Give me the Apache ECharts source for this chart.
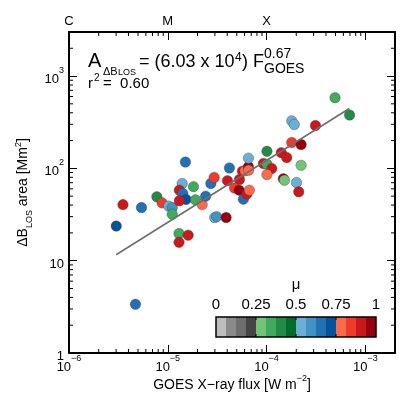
<!DOCTYPE html>
<html>
<head>
<meta charset="utf-8">
<script src="https://cdn.jsdelivr.net/npm/echarts@6/dist/echarts.min.js"></script>
</head>
<body style="margin:0">
<div id="container" style="width:407px;height:407px"></div>
<script>
// GOES peak flux [W m^-2], Delta B_LOS area [Mm^2], mu of each flare
var fluxes = [1.51e-5, 3.52e-6, 5.42e-6, 3.01e-6, 7.76e-6, 8.77e-6, 1.02e-5, 1.11e-5, 1.11e-5, 1.40e-5,
              1.31e-5, 1.42e-5, 1.53e-5, 1.31e-5, 1.82e-5, 1.91e-5, 2.23e-5, 2.42e-5, 2.73e-5, 2.95e-5,
              2.99e-5, 3.13e-5, 3.90e-5, 4.02e-5, 4.21e-5, 5.32e-5, 4.75e-5, 5.28e-5, 5.83e-5, 6.32e-5,
              6.71e-5, 5.70e-5, 6.07e-5, 6.56e-5, 6.59e-5, 6.56e-5, 9.31e-5, 1.01e-4, 1.13e-4, 1.01e-4,
              1.01e-4, 1.41e-4, 1.60e-4, 2.24e-4, 1.48e-4, 1.52e-4, 2.01e-4, 2.12e-4, 1.80e-4, 2.24e-4,
              1.80e-4, 1.91e-4, 3.13e-4, 4.94e-4, 6.93e-4, 1.30e-5, 1.61e-5, 1.30e-5, 4.71e-6];
var areas = [117, 40.5, 37.6, 23.7, 49.2, 42.3, 39.0, 37.6, 31.9, 68.7,
             58.1, 53.5, 46.1, 44.5, 63.4, 45.6, 40.5, 50.0, 68.7, 79.7,
             29.3, 30.0, 29.4, 73.6, 101, 75.8, 61.1, 58.1, 46.4, 52.6,
             58.1, 93.3, 94.4, 104, 95.6, 129, 113, 111, 99.8, 85.9,
             153, 148, 131, 108, 77.4, 74.5, 70.4, 55.7, 191, 181,
             327, 299, 291, 582, 379, 19.7, 18.9, 15.8, 3.37];
var mus = [0.66, 0.9, 0.66, 0.72, 0.41, 0.84, 0.53, 0.6, 0.34, 0.53,
           0.9, 0.66, 0.72, 0.9, 0.34, 0.34, 0.78, 0.66, 0.66, 0.84,
           0.53, 0.6, 0.97, 0.9, 0.66, 0.9, 0.84, 0.97, 0.66, 0.9,
           0.78, 0.9, 0.78, 0.97, 0.78, 0.53, 0.9, 0.34, 0.9, 0.78,
           0.41, 0.9, 0.9, 0.28, 0.97, 0.28, 0.53, 0.9, 0.84, 0.97,
           0.53, 0.53, 0.9, 0.34, 0.41, 0.34, 0.9, 0.9, 0.66];

// fit line A = 6.03e4 F^0.67, ends
var fitX = [3.0e-6, 6.9e-4];
var fitY = [11.6, 445];

var muColors = ['#bdbdbd', '#8a8a8a', '#6e6e6e', '#454545',
                '#74c476', '#41ab5d', '#238b45', '#006d2c',
                '#6baed6', '#4292c6', '#2171b5', '#08519c',
                '#fb6a4a', '#ef3b2c', '#cb181d', '#99000d'];
var muTicks = ['0', '0.25', '0.5', '0.75', '1'];
var classLabels = ['C', 'M', 'X'];
var minorMult = [2, 3, 4, 5, 6, 7, 8, 9];
var xDecades = [1e-6, 1e-5, 1e-4, 1e-3];
var yDecades = [1, 10, 100, 1000];

var xMin = 1e-6, xMax = 2e-3, yMin = 1, yMax = 3000;
var font = '"Liberation Sans", Arial, sans-serif';

var xMinor = [], yMinor = [];
xDecades.forEach(function (d) { minorMult.forEach(function (m) { if (d * m <= xMax) xMinor.push([d * m, yMin]); }); });
yDecades.forEach(function (d) { minorMult.forEach(function (m) { if (d * m <= yMax) yMinor.push([xMin, d * m]); }); });

var pts = fluxes.map(function (f, i) { return [f, areas[i], mus[i]]; });

function powLabel(v) {
  var l = Math.log10(v), e = Math.round(l);
  if (Math.abs(l - e) > 1e-6) return '';
  if (e === 0) return '{b|1}';
  if (e === 1) return '{b|10}';
  return '{b|10}{s|' + String(e).replace('-', '\u2212') + '}';
}

var tickRich = {
  b: { fontSize: 13, fontFamily: font, color: '#000', lineHeight: 20, verticalAlign: 'bottom' },
  s: { fontSize: 9, fontFamily: font, color: '#000', lineHeight: 9, verticalAlign: 'top' }
};
var axLine = { show: true, lineStyle: { color: '#000', width: 2 } };
var axTick = { show: true, inside: true, length: 8, lineStyle: { color: '#000', width: 1 } };

var dom = document.getElementById('container');
var myChart = echarts.init(dom);

function txt(s, x, y, size, extra) {
  var st = { text: s, font: size + 'px ' + font, fill: '#000', verticalAlign: 'middle' };
  if (extra) for (var k in extra) st[k] = extra[k];
  return { type: 'text', x: x, y: y, style: st };
}

var graphics = [
  txt('A', 88, 61, 20),
  txt('\u0394B', 103, 72, 11),
  txt('LOS', 118, 72.5, 9),
  txt('= (6.03 x 10', 139, 62, 18),
  txt('4', 235, 58, 12),
  txt(') F', 242, 62, 18),
  txt('0.67', 264, 54, 14),
  txt('GOES', 264, 69, 14),
  txt('r', 88, 84, 15),
  txt('2', 94, 78, 10),
  txt('=  0.60', 103, 84, 15),
  txt('\u03bc', 296, 285, 15, { align: 'center' })
];
// colour bar for mu
var cbX = 216, cbY = 317, cbW = 10, cbH = 20;
muColors.forEach(function (c, i) {
  graphics.push({ type: 'rect', shape: { x: cbX + i * cbW, y: cbY, width: cbW, height: cbH }, style: { fill: c } });
});
graphics.push({ type: 'rect', shape: { x: cbX, y: cbY, width: cbW * muColors.length, height: cbH }, style: { fill: 'none', stroke: '#000', lineWidth: 1.5 } });
muTicks.forEach(function (t, i) {
  var x = cbX + i * cbW * muColors.length / (muTicks.length - 1);
  graphics.push(txt(t, x, 305, 15, { align: 'center' }));
  if (i > 0 && i < muTicks.length - 1) {
    graphics.push({ type: 'line', shape: { x1: x, y1: cbY, x2: x, y2: cbY + 3 }, style: { stroke: '#000', lineWidth: 1 } });
    graphics.push({ type: 'line', shape: { x1: x, y1: cbY + cbH, x2: x, y2: cbY + cbH - 3 }, style: { stroke: '#000', lineWidth: 1 } });
  }
});

option = {
  animation: false,
  backgroundColor: '#fff',
  textStyle: { fontFamily: font },
  grid: { left: 69, right: 12, top: 32, bottom: 54 },
  xAxis: [{
    type: 'log', min: xMin, max: xMax, position: 'bottom',
    axisLine: axLine, axisTick: axTick, splitLine: { show: false },
    axisLabel: { margin: 1, formatter: powLabel, rich: tickRich },
    name: '{n|GOES X\u2212ray flux [W m}{s|\u22122}{n|]}', nameLocation: 'middle', nameGap: 21,
    nameMoveOverlap: false,
    nameTextStyle: { rich: {
      n: { fontSize: 14, fontFamily: font, color: '#000', lineHeight: 18, verticalAlign: 'bottom' },
      s: { fontSize: 9, fontFamily: font, color: '#000', lineHeight: 8, verticalAlign: 'top' } } }
  }, {
    type: 'log', min: xMin, max: xMax, position: 'top',
    axisLine: axLine, axisTick: axTick, splitLine: { show: false },
    axisLabel: { margin: 4, fontSize: 13, color: '#000', fontFamily: font, formatter: function (v) {
      var l = Math.log10(v), e = Math.round(l);
      if (Math.abs(l - e) > 1e-6) return '';
      return classLabels[e + 6] || '';
    } }
  }],
  yAxis: [{
    type: 'log', min: yMin, max: yMax, position: 'left',
    axisLine: axLine, axisTick: axTick, splitLine: { show: false },
    axisLabel: { margin: 5, formatter: powLabel, rich: tickRich },
    name: '{n|\u0394B}{sub|LOS}{n| area [Mm}{s|2}{n|]}', nameLocation: 'middle', nameGap: 30,
    nameTextStyle: { rich: {
      n: { fontSize: 14, fontFamily: font, color: '#000', lineHeight: 20, verticalAlign: 'middle' },
      sub: { fontSize: 9, fontFamily: font, color: '#000', lineHeight: 8, verticalAlign: 'bottom' },
      s: { fontSize: 9, fontFamily: font, color: '#000', lineHeight: 8, verticalAlign: 'top' } } }
  }, {
    type: 'log', min: yMin, max: yMax, position: 'right',
    axisLine: axLine, axisTick: axTick, splitLine: { show: false }, axisLabel: { show: false }
  }],
  graphic: graphics,
  series: [{
    type: 'custom', silent: true, clip: false, data: xMinor,
    renderItem: function (params, api) {
      var p = api.coord([api.value(0), yMin]);
      var cs = params.coordSys;
      var b = cs.y + cs.height;
      return { type: 'group', children: [
        { type: 'line', shape: { x1: p[0], y1: b, x2: p[0], y2: b - 4 }, style: { stroke: '#000', lineWidth: 1 } },
        { type: 'line', shape: { x1: p[0], y1: cs.y, x2: p[0], y2: cs.y + 4 }, style: { stroke: '#000', lineWidth: 1 } }
      ] };
    }
  }, {
    type: 'custom', silent: true, clip: false, data: yMinor,
    renderItem: function (params, api) {
      var p = api.coord([xMin, api.value(1)]);
      var cs = params.coordSys;
      var r = cs.x + cs.width;
      return { type: 'group', children: [
        { type: 'line', shape: { x1: cs.x, y1: p[1], x2: cs.x + 4, y2: p[1] }, style: { stroke: '#000', lineWidth: 1 } },
        { type: 'line', shape: { x1: r, y1: p[1], x2: r - 4, y2: p[1] }, style: { stroke: '#000', lineWidth: 1 } }
      ] };
    }
  }, {
    type: 'scatter', data: pts, symbolSize: 10.5,
    itemStyle: {
      color: function (p) { return muColors[Math.min(15, Math.floor(p.value[2] * 16))]; },
      borderColor: 'rgba(60,60,60,0.6)', borderWidth: 0.6, opacity: 1
    }
  }, {
    type: 'line', data: fitX.map(function (x, i) { return [x, fitY[i]]; }),
    symbol: 'none', silent: true, z: 5,
    lineStyle: { color: '#6e6e6e', width: 1.6 }
  }]
};
myChart.setOption(option);
</script>
</body>
</html>
